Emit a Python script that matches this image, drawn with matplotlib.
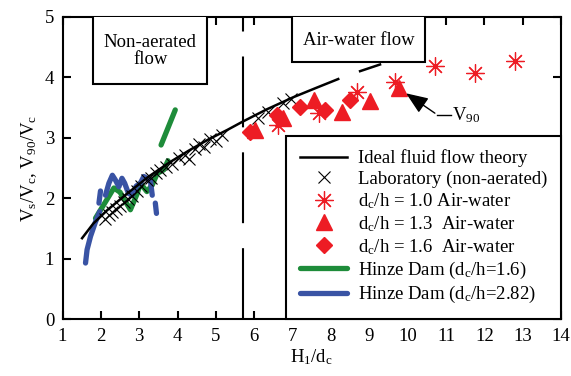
import numpy as np
import matplotlib
matplotlib.use("Agg")
import matplotlib.pyplot as plt
from matplotlib.patches import Rectangle

plt.rcParams["font.family"] = ["Liberation Serif", "DejaVu Serif"]
plt.rcParams["mathtext.default"] = "regular"
plt.rcParams["font.size"] = 13.5

nan = np.nan

# ideal fluid flow theory (solid part, then one dash further on)
THEORY_X = [1.51, 1.8, 2.16, 2.69, 3.25, 3.81, 4.3, 4.8, 5.3, 5.68, 6.33, 7.02, 7.6, 8.19, nan, 8.76, 9.28]
THEORY_Y = [1.34, 1.58, 1.80, 2.08, 2.36, 2.60, 2.79, 2.97, 3.13, 3.26, 3.47, 3.67, 3.82, 3.97, nan, 4.10, 4.21]

# laboratory, non-aerated
LAB_X = [2.1, 2.2, 2.3, 2.4, 2.5, 2.6, 2.7, 2.8, 2.95, 3.05, 3.2, 3.3, 3.45, 3.55, 3.7,
         3.85, 4.05, 4.2, 4.3, 4.45, 4.55, 4.7, 4.85, 5.0, 5.15, 6.1, 6.35, 6.75, 6.95]
LAB_Y = [1.66, 1.72, 1.78, 1.83, 1.88, 1.93, 1.98, 2.03, 2.12, 2.20, 2.30, 2.33, 2.42, 2.47, 2.52,
         2.56, 2.66, 2.72, 2.65, 2.82, 2.90, 2.85, 2.98, 2.95, 3.05, 3.32, 3.42, 3.58, 3.64]

# air-water data
STAR_X = [6.63, 7.68, 8.68, 9.68, 10.72, 11.76, 12.80]
STAR_Y = [3.21, 3.41, 3.76, 3.92, 4.18, 4.07, 4.27]
TRI_X = [6.03, 6.76, 7.55, 8.29, 9.02, 9.77]
TRI_Y = [3.13, 3.32, 3.62, 3.43, 3.60, 3.82]
DIA_X = [5.90, 6.59, 7.20, 7.85, 8.50]
DIA_Y = [3.10, 3.38, 3.51, 3.46, 3.63]

# Hinze Dam prototype traces
GREEN_X = [1.86, 2.12, 2.34, 2.5, 2.62, 2.77, 2.95, 3.03, 3.2, 3.34, 3.47, 3.64, 3.75, nan, 3.57, 3.94]
GREEN_Y = [1.67, 1.94, 2.17, 2.10, 1.97, 1.81, 2.08, 2.25, 2.11, 2.22, 2.41, 2.47, 2.62, nan, 2.88, 3.46]
BLUE_X = [1.6, 1.64, 1.73, 1.86, 1.97, nan, 1.95, 1.99, nan, 2.12, 2.21, 2.3, 2.38, 2.47, 2.55,
          2.62, 2.72, 2.82, 2.92, 3.03, 3.12, 3.2, 3.29, 3.34, nan, 3.42, 3.45]
BLUE_Y = [0.93, 1.15, 1.37, 1.61, 1.78, nan, 1.92, 2.12, nan, 2.05, 2.25, 2.38, 2.30, 2.19, 2.33,
          2.25, 2.08, 2.05, 2.20, 2.25, 2.36, 2.33, 2.30, 2.05, nan, 1.92, 1.75]

ONSET_X = 5.71
RED = "#ed1c24"
GREEN = "#1e8c3a"
BLUE = "#3953a4"

fig = plt.figure(figsize=(5.71, 3.76), dpi=100)
ax = fig.add_axes([0.1095, 0.1508, 0.873, 0.8048])

h_theory, = ax.plot(THEORY_X, THEORY_Y, color="k", lw=1.8, label="Ideal fluid flow theory", zorder=3)
h_lab, = ax.plot(LAB_X, LAB_Y, ls="none", marker="x", ms=8, mew=0.8, color="k",
                 label="Laboratory (non-aerated)", zorder=3)
h_star, = ax.plot(STAR_X, STAR_Y, ls="none", marker=(8, 2, 0), ms=13, mew=0.9, color=RED,
                  label="d$_c$/h = 1.0 Air-water", zorder=3)
h_tri, = ax.plot(TRI_X, TRI_Y, ls="none", marker="^", ms=11.5, color=RED,
                 label="d$_c$/h = 1.3  Air-water", zorder=3)
h_dia, = ax.plot(DIA_X, DIA_Y, ls="none", marker="D", ms=8.5, color=RED,
                 label="d$_c$/h = 1.6  Air-water", zorder=3)
h_green, = ax.plot(GREEN_X, GREEN_Y, color=GREEN, lw=3.8, solid_capstyle="round",
                   label="Hinze Dam (d$_c$/h=1.6)", zorder=2)
h_blue, = ax.plot(BLUE_X, BLUE_Y, color=BLUE, lw=3.8, solid_capstyle="round",
                  label="Hinze Dam (d$_c$/h=2.82)", zorder=2)

ax.axvline(ONSET_X, color="k", lw=1.5, dashes=(34, 12), zorder=2)

# region boxes
ax.add_patch(Rectangle((1.8, 3.89), 2.98, 1.3, facecolor="white", edgecolor="k", lw=1.5, zorder=4))
ax.text(3.29, 4.43, "Non-aerated\nflow", ha="center", va="center", linespacing=1.0, zorder=5)
ax.add_patch(Rectangle((6.99, 4.25), 3.46, 1.0, facecolor="white", edgecolor="k", lw=1.5, zorder=4))
ax.text(8.72, 4.6, "Air-water flow", ha="center", va="center", zorder=5)

# V90 pointer
ax.plot([10.77, 11.12], [3.38, 3.38], color="k", lw=1.0)
ax.annotate("", xy=(9.9, 3.76), xytext=(10.77, 3.38),
            arrowprops=dict(arrowstyle="-|>,head_length=1.0,head_width=0.4", color="k", lw=1.0))
ax.text(11.17, 3.38, "V$_{90}$", ha="left", va="center")

ax.set_xlim(1, 14)
ax.set_ylim(0, 5)
ax.set_xticks(range(1, 15))
ax.set_yticks(range(0, 6))
ax.tick_params(direction="in", length=6, width=1.5, top=True, right=True, pad=6)
for s in ax.spines.values():
    s.set_linewidth(1.5)
ax.set_xlabel("H$_1$/d$_c$", labelpad=2)
ax.set_ylabel("V$_s$/V$_c$, V$_{90}$/V$_c$", labelpad=4)

leg = ax.legend(handles=[h_theory, h_lab, h_star, h_tri, h_dia, h_green, h_blue],
                loc="lower right", bbox_to_anchor=(1, 0), borderaxespad=0, fancybox=False,
                framealpha=1, edgecolor="k", handlelength=2.5, handletextpad=0.55,
                labelspacing=0.17, borderpad=0.75, fontsize=13.5)
leg.get_frame().set_linewidth(1.5)
leg.set_zorder(6)

fig.savefig("out.png", dpi=100)
